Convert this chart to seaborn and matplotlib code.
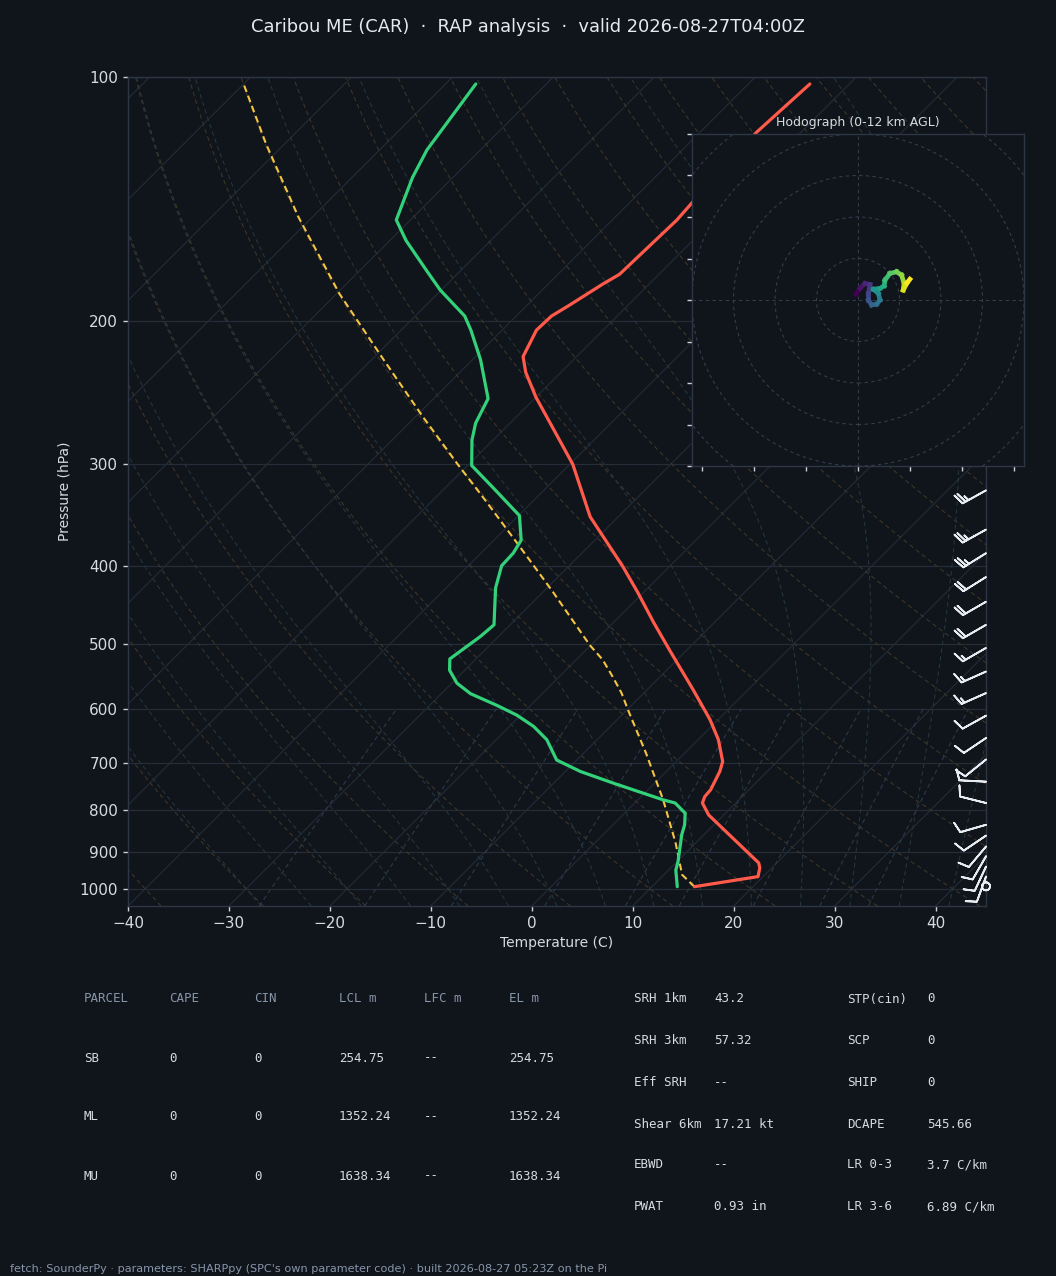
import numpy as np
import pandas as pd
import matplotlib
matplotlib.use("Agg")
import matplotlib.pyplot as plt
from matplotlib.collections import LineCollection
import seaborn as sns

# ---------------- data ----------------
TITLE = "Caribou ME (CAR)  \u00b7  RAP analysis  \u00b7  valid 2026-08-27T04:00Z"
FOOTER = ("fetch: SounderPy \u00b7 parameters: SHARPpy (SPC's own parameter code) "
          "\u00b7 built 2026-08-27 05:23Z on the Pi")

# temperature profile (hPa, degC)
T_PRES = [994, 966, 942, 929, 853, 811, 784, 770, 755, 717, 697, 655, 619, 569,
          510, 470, 432, 401, 359, 348, 300, 270, 248, 231, 221, 205, 197, 191,
          180, 175, 150, 143, 117, 102]
T_DEGC = [14.2, 19.5, 18.8, 18.2, 12.1, 8.5, 6.7, 6.3, 6.2, 5.3, 4.6, 2.0, -0.8,
          -5.4, -11.5, -16.0, -20.5, -24.6, -31.0, -32.8, -39.7, -45.4, -50.0,
          -53.5, -55.3, -56.6, -56.5, -55.8, -54.6, -53.9, -53.6, -53.8, -54.4, -53.9]

# dewpoint profile
TD_PRES = [994, 948, 926, 858, 834, 807, 784, 777, 741, 717, 694, 655, 631, 611,
           594, 575, 558, 538, 521, 489, 473, 426, 400, 386, 372, 347, 320, 301,
           280, 267, 249, 223, 205, 197, 183, 174, 159, 150, 133, 123, 102]
TD_DEGC = [12.5, 10.7, 10.1, 7.8, 7.1, 6.0, 4.0, 2.5, -4.1, -8.5, -12.0, -15.0,
           -17.6, -20.4, -23.4, -27.1, -29.5, -31.5, -32.6, -31.8, -31.6, -35.1,
           -36.7, -36.8, -37.3, -39.9, -45.4, -49.6, -52.1, -53.4, -54.6, -59.2,
           -63.1, -65.1, -70.1, -73.1, -78.4, -81.4, -84.0, -85.3, -87.0]

# surface parcel trace
PARCEL_PRES = [994, 961, 878, 777, 681, 602, 574, 548, 522, 501, 431, 377, 329,
               300, 262, 223, 185, 149, 121, 102]
PARCEL_DEGC = [14.2, 11.8, 8.0, 2.5, -3.8, -9.9, -12.2, -14.7, -17.4, -20.1,
               -29.0, -37.1, -45.4, -51.1, -59.3, -68.8, -79.7, -91.3, -101.8, -110.0]

# wind barbs
WIND_PRES = [993, 966, 939, 912, 887, 860, 834, 784, 738, 693, 652, 612, 574,
             540, 505, 473, 443, 413, 386, 361, 323]
WIND_DIR = [0, 200, 205, 210, 220, 236, 254, 284, 273, 231, 236, 241, 246, 246,
            240, 240, 240, 238, 238, 241, 241]
WIND_KT = [0, 10, 10, 10, 10, 10, 10, 10, 10, 10, 10, 10, 15, 15, 15, 20, 20,
           20, 25, 25, 25]

# hodograph trace (0-12 km)
HODO_U = [-0.5, 0.5, 1.7, 2.9, 2.5, 2.5, 3.3, 4.5, 5.3, 4.9, 3.7, 5.3, 6.3, 6.5,
          7.7, 9.3, 10.5, 11.1, 10.9, 11.8, 12.5]
HODO_V = [1.4, 2.8, 4.0, 3.7, 1.6, 0.0, -1.2, -1.0, 0.0, 1.6, 2.6, 2.8, 3.4, 4.8,
          6.4, 6.8, 6.0, 4.0, 2.4, 4.1, 5.0]

# parameter tables
TAB_HEAD = ["PARCEL", "CAPE", "CIN", "LCL m", "LFC m", "EL m"]
TAB_PARCEL = ["SB", "ML", "MU"]
TAB_CAPE = ["0", "0", "0"]
TAB_CIN = ["0", "0", "0"]
TAB_LCL = ["254.75", "1352.24", "1638.34"]
TAB_LFC = ["--", "--", "--"]
TAB_EL = ["254.75", "1352.24", "1638.34"]
PAR_A_NAMES = ["SRH 1km", "SRH 3km", "Eff SRH", "Shear 6km", "EBWD", "PWAT"]
PAR_A_VALS = ["43.2", "57.32", "--", "17.21 kt", "--", "0.93 in"]
PAR_B_NAMES = ["STP(cin)", "SCP", "SHIP", "DCAPE", "LR 0-3", "LR 3-6"]
PAR_B_VALS = ["0", "0", "0", "545.66", "3.7 C/km", "6.89 C/km"]

# ---------------- style ----------------
BG = "#10141b"
SPINE = "#2c3644"
TXT = "#d6dbe2"
MUTED = "#8796aa"
RED = "#ff5a4a"
GREEN = "#33d27a"
YELLOW = "#f4c542"
ISO_C = "#222a35"
ISOBAR_C = "#252d39"
DRY_C = "#3d3627"
MOIST_C = "#23363c"
MIX_C = "#2a3a4b"
RING_C = "#333d4c"

sns.set_theme(style="dark", rc={
    "figure.facecolor": BG, "axes.facecolor": BG, "savefig.facecolor": BG,
    "axes.edgecolor": SPINE, "axes.linewidth": 1.0, "text.color": TXT,
    "axes.labelcolor": TXT, "xtick.color": TXT, "ytick.color": TXT,
    "axes.grid": False, "xtick.bottom": True, "ytick.left": True,
})
plt.rcParams["font.family"] = ["DejaVu Sans"]

W, H = 1056, 1276
fig = plt.figure(figsize=(W / 100, H / 100), dpi=100)

P_BOT, P_TOP = 1050.0, 100.0
SKEW = 80.44  # degC per decade of pressure


def skx(t, p):
    return np.asarray(t, float) + SKEW * np.log10(P_BOT / np.asarray(p, float))


ax = fig.add_axes([128 / W, 1 - 906 / H, 858 / W, 829 / H])
ax.set_yscale("log")

# ---- background reference lines ----
p_full = np.geomspace(P_BOT, P_TOP, 120)
for p0 in range(100, 1001, 100):
    ax.axhline(p0, color=ISOBAR_C, lw=0.9, zorder=1)
for t0 in range(-140, 50, 10):
    pp = np.array([P_BOT, P_TOP])
    ax.plot(skx(t0, pp), pp, color=ISO_C, lw=0.9, zorder=1)
for th in np.arange(-50, 201, 10) + 273.15:
    tt = th * (p_full / 1000.0) ** 0.2857 - 273.15
    ax.plot(skx(tt, p_full), p_full, color=DRY_C, lw=0.8, ls=(0, (4, 3)), zorder=1)


def dtdp(T, p):
    es = 6.112 * np.exp(17.67 * (T - 273.15) / (T - 29.65))
    rs = 0.622 * es / (p - es)
    return (287.04 * T + 2.501e6 * rs) / (
        p * (1005.7 + 2.501e6 ** 2 * rs * 0.622 / (287.04 * T * T)))


def integrate(T0, path):
    out = [T0]
    for i in range(len(path) - 1):
        a, b = path[i], path[i + 1]
        h = b - a
        T = out[-1]
        k1 = dtdp(T, a)
        k2 = dtdp(T + h / 2 * k1, a + h / 2)
        k3 = dtdp(T + h / 2 * k2, a + h / 2)
        k4 = dtdp(T + h * k3, b)
        out.append(T + h / 6 * (k1 + 2 * k2 + 2 * k3 + k4))
    return np.array(out)


t0s = np.arange(-30, 46, 5) + 273.15
p_up = np.linspace(1000, 100, 181)
p_dn = np.linspace(1000, 1050, 11)
Tu = integrate(t0s, p_up)
Td_ = integrate(t0s, p_dn)
pm = np.concatenate([p_dn[::-1], p_up[1:]])
for k in range(len(t0s)):
    tm = np.concatenate([Td_[::-1, k], Tu[1:, k]]) - 273.15
    ax.plot(skx(tm, pm), pm, color=MOIST_C, lw=0.8, ls=(0, (4, 3)), zorder=1)

p_mix = np.geomspace(P_BOT, 600, 30)
for w in [0.0004, 0.001, 0.002, 0.004, 0.007, 0.01, 0.016, 0.024, 0.032]:
    e = w * p_mix / (0.622 + w)
    le = np.log(e / 6.112)
    tdm = 243.5 * le / (17.67 - le)
    ax.plot(skx(tdm, p_mix), p_mix, color=MIX_C, lw=0.8, ls=(0, (4, 3)), zorder=1)

# ---- profiles ----
df_t = pd.DataFrame({"x": skx(T_DEGC, T_PRES), "p": T_PRES})
df_d = pd.DataFrame({"x": skx(TD_DEGC, TD_PRES), "p": TD_PRES})
df_p = pd.DataFrame({"x": skx(PARCEL_DEGC, PARCEL_PRES), "p": PARCEL_PRES})
sns.lineplot(data=df_p, x="x", y="p", sort=False, estimator=None, ax=ax,
             color=YELLOW, lw=1.5, linestyle=(0, (3.3, 1.9)), zorder=4)
sns.lineplot(data=df_d, x="x", y="p", sort=False, estimator=None, ax=ax,
             color=GREEN, lw=2.3, zorder=5)
sns.lineplot(data=df_t, x="x", y="p", sort=False, estimator=None, ax=ax,
             color=RED, lw=2.3, zorder=6)

# ---- wind barbs ----
wd = np.radians(WIND_DIR)
wu = -np.asarray(WIND_KT) * np.sin(wd)
wv = -np.asarray(WIND_KT) * np.cos(wd)
ax.barbs(np.full(len(WIND_PRES), 45.0), WIND_PRES, wu, wv, length=6.2,
         color="#e8ecf1", lw=1.3, clip_on=False, zorder=7)

ax.set_xlim(-40, 45)
ax.set_ylim(P_BOT, P_TOP)
ax.set_yticks(range(100, 1001, 100))
ax.set_yticklabels([str(v) for v in range(100, 1001, 100)])
ax.yaxis.set_minor_locator(matplotlib.ticker.NullLocator())
ax.set_xticks(range(-40, 41, 10))
ax.tick_params(axis="both", length=3.6, width=1, pad=3.5, labelsize=11,
               color="#c9d0d8")
ax.set_ylabel("Pressure (hPa)", fontsize=10, labelpad=6)
ax.set_xlabel("Temperature (C)", fontsize=10, labelpad=4)
ax.grid(False)
for s in ax.spines.values():
    s.set_color(SPINE)

# ---- hodograph ----
hx = fig.add_axes([692 / W, 1 - 466 / H, 332 / W, 332 / H])
hx.set_facecolor(BG)
hx.set_xlim(-40, 40)
hx.set_ylim(-40, 40)
for r in range(10, 61, 10):
    hx.add_patch(plt.Circle((0, 0), r, fill=False, ls=(0, (3, 3)),
                            color=RING_C, lw=0.8))
hx.axhline(0, color=RING_C, lw=0.8, ls=(0, (3, 3)))
hx.axvline(0, color=RING_C, lw=0.8, ls=(0, (3, 3)))
pts = np.column_stack([HODO_U, HODO_V])
segs = np.stack([pts[:-1], pts[1:]], axis=1)
lc = LineCollection(segs, cmap="viridis", linewidths=3.4, capstyle="projecting")
lc.set_array(np.linspace(0, 12, len(segs)))
hx.add_collection(lc)
hx.set_xticks([-37.5, -25, -12.5, 0, 12.5, 25, 37.5])
hx.set_yticks(range(-40, 41, 10))
hx.set_xticklabels([])
hx.set_yticklabels([])
hx.tick_params(length=3.6, width=1, color="#c9d0d8")
hx.grid(False)
for s in hx.spines.values():
    s.set_color(SPINE)
hx.set_title("Hodograph (0-12 km AGL)", fontsize=9, color=TXT, pad=6)

# ---- title & footer ----
fig.text(0.5, 1 - 27 / H, TITLE, ha="center", va="center", fontsize=12.9,
         color="#e6e9ee")
fig.text(10 / W, 1 - 1269 / H, FOOTER, ha="left", va="center", fontsize=8.15,
         color=MUTED)

# ---- tables ----
MONO = "DejaVu Sans Mono"


def put(xp, yp, s, c):
    fig.text(xp / W, 1 - yp / H, s, ha="left", va="center", fontsize=9,
             family=MONO, color=c)


cols_x = [84, 169, 254, 339, 424, 509]
for cx, h in zip(cols_x, TAB_HEAD):
    put(cx, 999, h, MUTED)
rows_y = [1058, 1117, 1176]
for i, ry in enumerate(rows_y):
    vals = [TAB_PARCEL[i], TAB_CAPE[i], TAB_CIN[i], TAB_LCL[i], TAB_LFC[i], TAB_EL[i]]
    for cx, v in zip(cols_x, vals):
        put(cx, ry, v, TXT)

prow_y = [999, 1041, 1083, 1124, 1165, 1207]
for i, ry in enumerate(prow_y):
    put(634, ry, PAR_A_NAMES[i], TXT)
    put(714, ry, PAR_A_VALS[i], TXT)
    put(847, ry, PAR_B_NAMES[i], TXT)
    put(927, ry, PAR_B_VALS[i], TXT)

fig.savefig("out.png", dpi=100, facecolor=BG)
